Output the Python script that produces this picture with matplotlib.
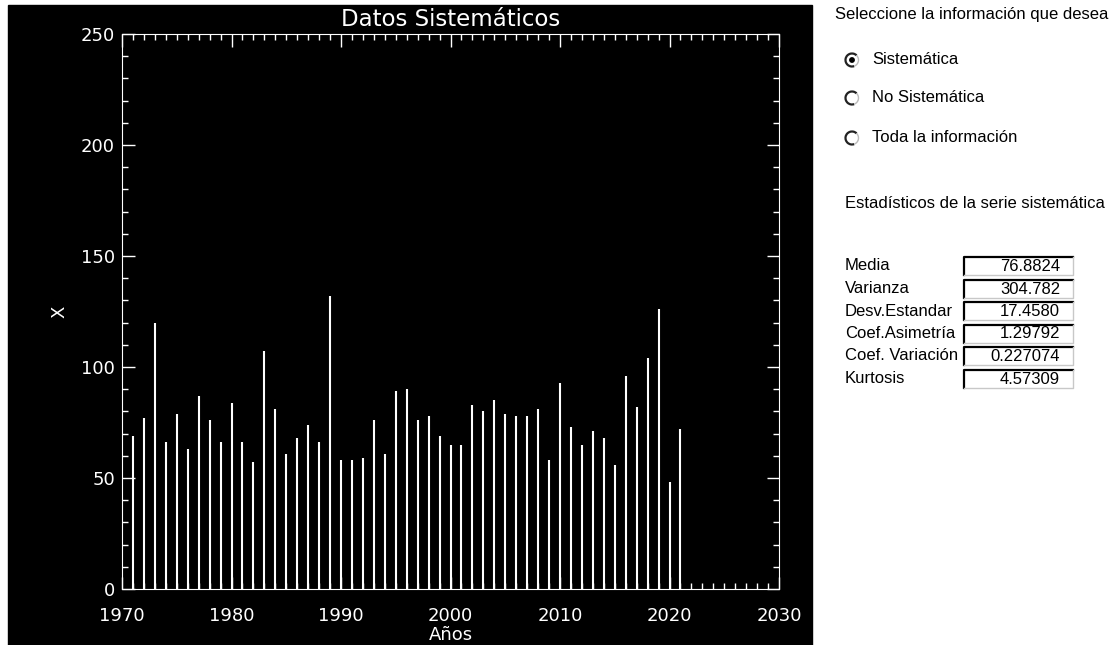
import matplotlib
matplotlib.use('Agg')
import matplotlib.pyplot as plt
from matplotlib import patches
from matplotlib.ticker import MultipleLocator
import numpy as np

# annual series (1971-2021)
years = list(range(1971, 2022))
values = [69, 77, 120, 66, 79, 63, 87, 76, 66, 84,
          66, 57, 107, 81, 61, 68, 74, 66, 132, 58,
          58, 59, 76, 61, 89, 90, 76, 78, 69, 65,
          65, 83, 80, 85, 79, 78, 78, 81, 58, 93,
          73, 65, 71, 68, 56, 96, 82, 104, 126, 48, 72]

title = 'Datos Sistemáticos'
xlabel = 'Años'
ylabel = 'X'

# side panel texts
panel_title = 'Seleccione la información que desea'
radio_labels = ['Sistemática', 'No Sistemática', 'Toda la información']
stats_title = 'Estadísticos de la serie sistemática'
stat_names = ['Media', 'Varianza', 'Desv.Estandar', 'Coef.Asimetría',
              'Coef. Variación', 'Kurtosis']
stat_values = ['76.8824', '304.782', '17.4580', '1.29792', '0.227074', '4.57309']

W, H = 1114, 645
fig = plt.figure(figsize=(W / 100, H / 100), dpi=100, facecolor='white')

# background layer in pixel coordinates
bg = fig.add_axes([0, 0, 1, 1])
bg.set_xlim(0, W)
bg.set_ylim(H, 0)
bg.axis('off')
bg.add_patch(patches.Rectangle((8, 5), 804, 640, color='black'))

# plot area
x0, x1, y0, y1 = 122, 779, 34, 589
ax = fig.add_axes([x0 / W, (H - y1) / H, (x1 - x0) / W, (y1 - y0) / H])
ax.set_facecolor('black')
ax.vlines(years, 0, values, colors='white', lw=1.5)
ax.set_xlim(1970, 2030)
ax.set_ylim(0, 250)
ax.xaxis.set_major_locator(MultipleLocator(10))
ax.xaxis.set_minor_locator(MultipleLocator(1))
ax.yaxis.set_major_locator(MultipleLocator(50))
ax.yaxis.set_minor_locator(MultipleLocator(10))
ax.tick_params(which='both', direction='in', colors='white', top=True, right=True,
               labelsize=13, width=1)
ax.tick_params(which='major', length=9)
ax.tick_params(which='minor', length=4)
ax.tick_params(axis='x', pad=13)
ax.tick_params(axis='y', pad=5)
for s in ax.spines.values():
    s.set_color('white')
ax.set_title(title, color='white', fontsize=16.5, pad=6)
ax.set_xlabel(xlabel, color='white', fontsize=13, labelpad=1)
ax.set_ylabel(ylabel, color='white', fontsize=13, labelpad=9)

# side panel
tkw = dict(family='Liberation Sans', fontsize=12, color='black', va='center')
bg.text(835, 14, panel_title, **tkw)
radio_y = [60, 98, 138]
for i, (lab, ry) in enumerate(zip(radio_labels, radio_y)):
    bg.add_patch(patches.Arc((852, ry), 13, 13, theta1=70, theta2=315,
                             color='#222222', lw=1.6))
    bg.add_patch(patches.Arc((852, ry), 13, 13, theta1=315, theta2=430,
                             color='#bbbbbb', lw=1))
    if i == 0:
        bg.add_patch(patches.Circle((852, ry), 2.2, color='black'))
    bg.text(872, ry, lab, **tkw)

bg.text(845, 204, stats_title, **tkw)
for i, (name, val) in enumerate(zip(stat_names, stat_values)):
    top = 257 + 22.5 * i
    bg.text(845, top + 9, name, **tkw)
    # sunken edit box
    bg.plot([964, 964, 1073], [top + 18, top, top], color='black', lw=1.6)
    bg.plot([964, 1073, 1073], [top + 18, top + 18, top], color='#c8c8c8', lw=1)
    bg.text(1060, top + 9.5, val, ha='right', family='Liberation Sans',
            fontsize=12, color='black', va='center')

fig.savefig('out.png', dpi=100, facecolor='white')
